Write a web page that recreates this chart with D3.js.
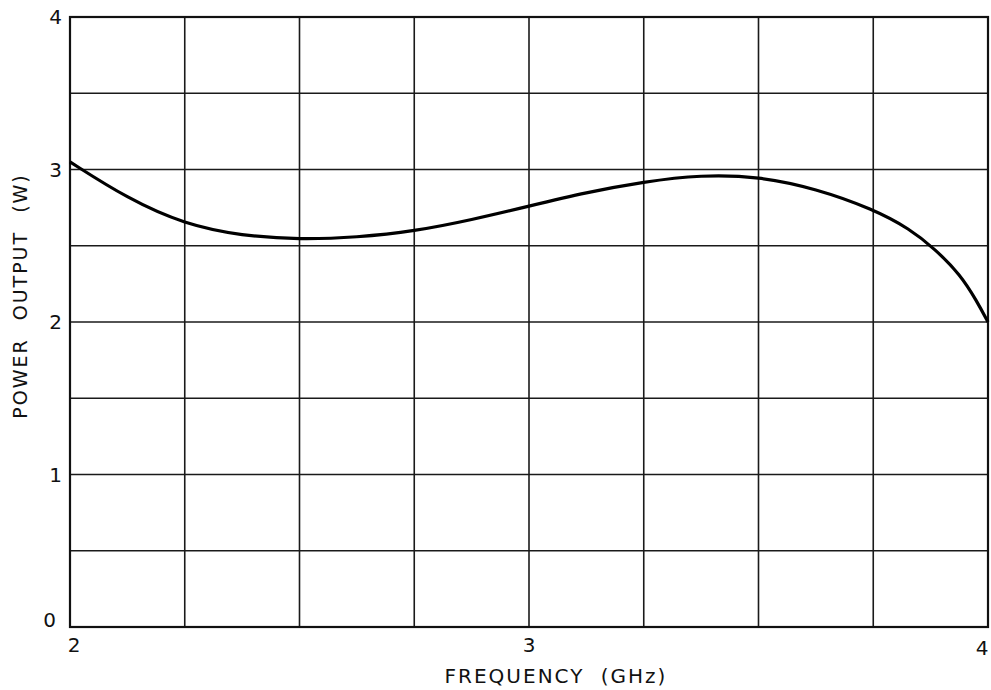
<!DOCTYPE html>
<html>
<head>
<meta charset="utf-8">
<script src="https://cdn.jsdelivr.net/npm/d3@7"></script>
<style>
  body { margin: 0; background: #fff; }
  .grid line { stroke: #1a1a1a; stroke-width: 1.6; }
  .frame { fill: none; stroke: #111; stroke-width: 2.2; }
  .curve { fill: none; stroke: #000; stroke-width: 3.2; }
  text { font-family: "DejaVu Sans", sans-serif; fill: #111; }
</style>
</head>
<body>
<script>
var width = 991;
var height = 690;
var margin = {top: 17, right: 3, bottom: 63, left: 70};

// frequency (GHz) and power output (W)
var freq = [2.0, 2.125, 2.25, 2.375, 2.5, 2.625, 2.75, 2.875, 3.0, 3.125, 3.25, 3.375, 3.5, 3.625, 3.75, 3.83, 3.884, 3.94, 3.975, 4.0];
var power = [3.05, 2.81, 2.64, 2.565, 2.54, 2.555, 2.595, 2.67, 2.76, 2.85, 2.92, 2.965, 2.955, 2.875, 2.74, 2.61, 2.48, 2.31, 2.14, 2.0];

var xGrid = [2, 2.25, 2.5, 2.75, 3, 3.25, 3.5, 3.75, 4];
var yGrid = [0, 0.5, 1, 1.5, 2, 2.5, 3, 3.5, 4];
var xTicks = [2, 3, 4];
var yTicks = [0, 1, 2, 3, 4];

var svg = d3.select('body').append('svg')
  .attr('width', width)
  .attr('height', height);

var x = d3.scaleLinear().domain([2, 4]).range([margin.left, width - margin.right]);
var y = d3.scaleLinear().domain([0, 4]).range([height - margin.bottom, margin.top]);

var grid = svg.append('g').attr('class', 'grid');

grid.selectAll('.vline').data(xGrid).enter().append('line')
  .attr('class', 'vline')
  .attr('x1', function (d) { return x(d); })
  .attr('x2', function (d) { return x(d); })
  .attr('y1', y(0))
  .attr('y2', y(4));

grid.selectAll('.hline').data(yGrid).enter().append('line')
  .attr('class', 'hline')
  .attr('x1', x(2))
  .attr('x2', x(4))
  .attr('y1', function (d) { return y(d); })
  .attr('y2', function (d) { return y(d); });

svg.append('rect')
  .attr('class', 'frame')
  .attr('x', x(2))
  .attr('y', y(4))
  .attr('width', x(4) - x(2))
  .attr('height', y(0) - y(4));

// smoothed pen-drawn curve
var line = d3.line()
  .x(function (d, i) { return x(freq[i]); })
  .y(function (d) { return y(d); })
  .curve(d3.curveBasis);

svg.append('path')
  .attr('class', 'curve')
  .attr('d', line(power));

// tick labels
svg.selectAll('.xlabel').data(xTicks).enter().append('text')
  .attr('class', 'xlabel')
  .attr('x', function (d) { return x(d) + (d === 2 ? 4 : d === 4 ? -6 : 0); })
  .attr('y', function (d) { return y(0) + (d === 4 ? 28 : 25); })
  .attr('text-anchor', 'middle')
  .style('font-size', '20px')
  .text(function (d) { return d; });

svg.selectAll('.ylabel').data(yTicks).enter().append('text')
  .attr('class', 'ylabel')
  .attr('x', function (d) { return d === 0 ? x(2) - 14 : x(2) - 8; })
  .attr('y', function (d) { return y(d) + (d === 0 ? 0 : 7); })
  .attr('text-anchor', 'end')
  .style('font-size', '20px')
  .text(function (d) { return d; });

// axis titles
svg.append('text')
  .attr('x', 556)
  .attr('y', 683)
  .attr('text-anchor', 'middle')
  .style('font-size', '20px')
  .style('letter-spacing', '2px')
  .style('word-spacing', '8px')
  .text('FREQUENCY (GHz)');

svg.append('text')
  .attr('transform', 'translate(27,296) rotate(-90)')
  .attr('text-anchor', 'middle')
  .style('font-size', '19px')
  .style('letter-spacing', '2px')
  .style('word-spacing', '10px')
  .text('POWER OUTPUT (W)');
</script>
</body>
</html>
